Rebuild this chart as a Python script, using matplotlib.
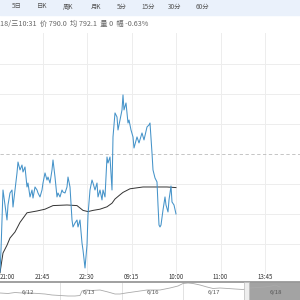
import matplotlib
matplotlib.use('Agg')
import matplotlib.pyplot as plt
import matplotlib.patches as mpatches
import matplotlib.transforms as mtransforms

plt.rcParams['font.family'] = ['Noto Sans CJK SC', 'DejaVu Sans']

# tabs and info line
tabs = ['5日', '日K', '周K', '月K', '5分', '15分', '30分', '60分']
tab_x = [17, 42.5, 68.5, 96, 122, 148.5, 175, 202.5]
info_text = '18/三10:31  价 790.0  均 792.1  量 0  幅 -0.63%'

# intraday price (slot index, price)
price_slot = [0, 1, 3, 5, 7, 8, 10, 12, 13, 15, 17, 18, 20, 22, 23, 25, 27, 28, 30, 32,
              33, 35, 37, 38, 40, 42, 43, 45, 47, 48, 50, 52, 53, 55, 57, 58, 60, 62, 63, 65,
              67, 68, 70, 72, 73, 75, 77, 78, 80, 82, 83, 85, 87, 88, 90, 92, 93, 95, 97, 98,
              100, 102, 103, 105, 107, 108, 110, 112, 113, 115, 117, 118, 120, 122, 123, 124,
              126, 128, 129, 131, 133, 134, 137, 139, 142, 144, 147, 149, 150, 152, 153, 155,
              157, 158, 159, 160, 161, 163, 165, 166, 168, 169, 171, 172, 174, 176]
price = [785.17, 787.0, 792.0, 790.75, 789.5, 790.75, 791.75, 792.0, 790.58, 792.0,
         793.42, 794.33, 793.67, 794.08, 793.5, 793.92, 792.25, 792.58, 791.42, 792.0,
         791.33, 792.25, 792.0, 791.75, 791.42, 792.0, 792.58, 793.42, 792.83, 793.08,
         792.58, 793.67, 794.5, 793.08, 791.42, 791.75, 791.42, 792.0, 791.83, 791.75,
         792.25, 793.08, 792.25, 789.5, 788.92, 789.25, 789.5, 788.92, 789.5, 787.58,
         787.0, 785.5, 787.42, 789.92, 792.0, 792.83, 792.58, 792.0, 792.58, 791.42,
         792.0, 791.17, 792.0, 791.42, 794.75, 794.25, 794.75, 792.0, 796.42, 798.42,
         798.08, 797.0, 797.83, 798.67, 799.92, 798.67, 799.25, 797.58, 797.83, 797.0,
         796.42, 795.5, 796.42, 795.92, 796.75, 796.17, 797.25, 797.42, 797.58, 795.08,
         793.67, 793.0, 792.67, 790.75, 789.08, 788.92, 789.08, 790.33, 791.42, 790.75,
         790.17, 791.17, 792.33, 791.0, 790.75, 790.0]

# average price
avg_slot = [0, 3, 7, 10, 15, 20, 27, 37, 45, 53, 67, 77, 83, 88, 93, 100, 107, 112, 115,
            120, 123, 130, 143, 157, 167, 176]
avg_price = [785.1, 786.75, 787.4, 788.0, 788.5, 789.3, 790.1, 790.25, 790.4, 790.7,
             790.75, 790.7, 790.3, 790.2, 790.3, 790.4, 790.6, 790.9, 791.25, 791.6,
             791.8, 792.1, 792.25, 792.25, 792.25, 792.2]

prev_close = 795.0

tick_slot = [-2, 42.5, 87, 131.5, 176, 220.5, 265, 309.5]
tick_labels = ['21:00', '21:45', '22:30', '09:15', '10:00', '11:00', '13:45', '14:00']

# navigator
nav_slot = [0, 8, 15, 22, 30, 38, 45, 52, 60, 68, 75, 80, 82, 86, 92, 100, 108, 115, 120,
            126, 133, 140, 147, 155, 160, 170, 178, 183, 188, 193, 200, 207, 213, 220, 228,
            235, 243, 250, 258, 265, 272, 275, 280]
nav_price = [780, 779, 781, 780, 780, 779, 778, 776, 775, 774, 774, 775, 784, 786, 785,
             786, 782, 778, 778, 780, 782, 784, 786, 786, 786, 790, 794, 799, 800, 799,
             796, 792, 789, 790, 789, 788, 787, 790, 791, 792, 794, 796, 792]
nav_days = ['6/12', '6/13', '6/16', '6/17', '6/18']
nav_day_x = [28, 89, 153, 214, 276]
nav_sep = [60, 122, 183]

fig = plt.figure(figsize=(3, 3), dpi=100)

# top tab bar
fig.patches.append(mpatches.Rectangle((0, 1 - 15 / 300), 1, 15 / 300,
                                      transform=fig.transFigure, color='#eaf1fb', zorder=0))
for t, x in zip(tabs, tab_x):
    fig.text(x / 300, 1 - 6.5 / 300, t, fontsize=4.6, color='#555555', ha='center', va='center')
fig.text(0, 1 - 24 / 300, info_text, fontsize=5.2, color='#666666', ha='left', va='center')

# main chart
ax = fig.add_axes([0, 1 - 274 / 300, 1, (274 - 33) / 300])
ax.set_xlim(0, 300)
ax.set_ylim(785.0, 805.08)
for s in ax.spines.values():
    s.set_visible(False)
ax.set_xticks([])
ax.set_yticks([])
for x in tick_slot:
    ax.axvline(x, color='#ededed', lw=0.7, zorder=0)
for y in [787.5, 790, 792.5, 797.5, 800, 802.5]:
    ax.axhline(y, color='#ededed', lw=0.7, zorder=0)
ax.axhline(prev_close, color='#bbbbbb', lw=0.6, ls=(0, (4, 3)), zorder=1)

ax.plot(price_slot, price, color='#4593c9', lw=0.75, zorder=3)
ax.plot(avg_slot, avg_price, color='#333333', lw=0.7, zorder=2)

trans = mtransforms.blended_transform_factory(ax.transData, fig.transFigure)
for x, lab in zip(tick_slot, tick_labels):
    if x < 5:
        ax.text(0, 1 - 277 / 300, lab, transform=trans, fontsize=4.4, color='#333333',
                ha='left', va='center', clip_on=False)
    else:
        ax.text(x, 1 - 277 / 300, lab, transform=trans, fontsize=4.4, color='#333333',
                ha='center', va='center', clip_on=False)

# navigator
nav = fig.add_axes([0, 0, 1, 18 / 300])
nav.set_xlim(0, 300)
nav.set_ylim(766, 802)
nav.set_xticks([])
nav.set_yticks([])
for k, s in nav.spines.items():
    s.set_visible(k == 'top')
nav.spines['top'].set_color('#999999')
nav.spines['top'].set_linewidth(1.3)
for x in nav_sep:
    nav.axvline(x, color='#dddddd', lw=0.6, zorder=0)
nav.plot(nav_slot, nav_price, color='#aaaaaa', lw=0.6, zorder=2)
nav.axvspan(246, 300, color='#a3a3a3', zorder=1)
nav.add_patch(mpatches.Rectangle((244, 766), 5, 36, fc='#eeeeee', ec='#bbbbbb', lw=0.5, zorder=3))
for lab, x in zip(nav_days, nav_day_x):
    nav.text(x, 0.42, lab, transform=mtransforms.blended_transform_factory(nav.transData, nav.transAxes),
             fontsize=4.3, color='#555555', ha='center', va='center', zorder=4)

fig.savefig('out.png', dpi=100)
plt.close(fig)
